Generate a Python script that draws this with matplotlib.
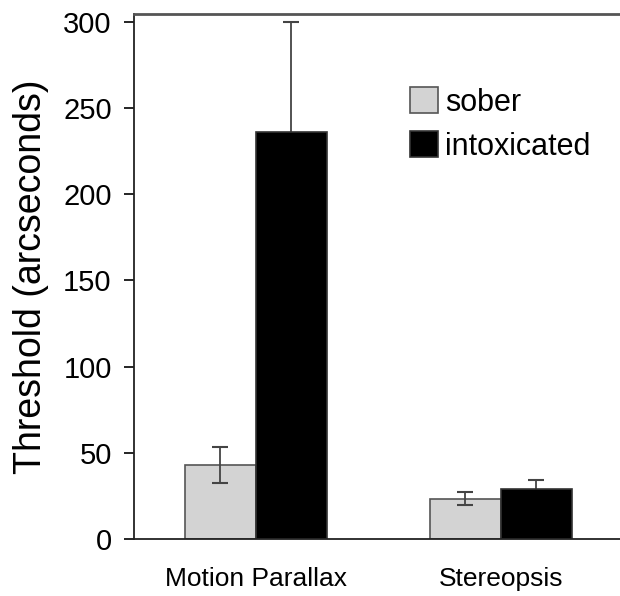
import matplotlib.pyplot as plt
import numpy as np

plt.rcParams['font.family'] = ['Liberation Sans', 'DejaVu Sans']

conditions = ['Motion Parallax', 'Stereopsis']
sober = [43, 23.5]
sober_err = [10.5, 3.5]
intox = [236, 29]
intox_err = [64, 5]

fig = plt.figure(figsize=(6.2, 5.96), dpi=100)
ax = fig.add_axes([0.216, 0.0956, 0.784, 0.881])

x = np.arange(len(conditions))
w = 0.29
ax.bar(x - w/2, sober, w, color='#d3d3d3', edgecolor='#555555', linewidth=1.2, label='sober', zorder=2)
ax.bar(x + w/2, intox, w, color='black', edgecolor='#333333', linewidth=1.2, label='intoxicated', zorder=2)
ax.errorbar(x - w/2, sober, yerr=sober_err, fmt='none', ecolor='#444444', elinewidth=1.3,
            capsize=6, capthick=1.5, zorder=3)
# lower half of the intoxicated bars' errors is hidden behind the bar
ax.errorbar(x + w/2, intox, yerr=intox_err, fmt='none', ecolor='#444444', elinewidth=1.3,
            capsize=6, capthick=1.5, zorder=1)

ax.set_xlim(-0.498, 1.486)
ax.set_ylim(0, 304.6)
ax.set_yticks([0, 50, 100, 150, 200, 250, 300])
ax.set_xticks(x)
ax.set_xticklabels(conditions, fontsize=19)
ax.tick_params(axis='x', length=0, pad=20)
ax.tick_params(axis='y', direction='out', length=7, width=1.2, labelsize=21, pad=9)
ax.set_ylabel('Threshold (arcseconds)', fontsize=27, labelpad=10)

ax.spines['right'].set_visible(False)
for s in ['left', 'bottom']:
    ax.spines[s].set_linewidth(1.3)
    ax.spines[s].set_color('#222222')
ax.spines['top'].set_linewidth(2)
ax.spines['top'].set_color('#555555')

ax.legend(loc='upper left', bbox_to_anchor=(0.568, 0.860), frameon=False, fontsize=22,
          borderpad=0, borderaxespad=0, handlelength=0.9, handleheight=0.9,
          handletextpad=0.25, labelspacing=0.45)

plt.savefig('out.png', dpi=100)
